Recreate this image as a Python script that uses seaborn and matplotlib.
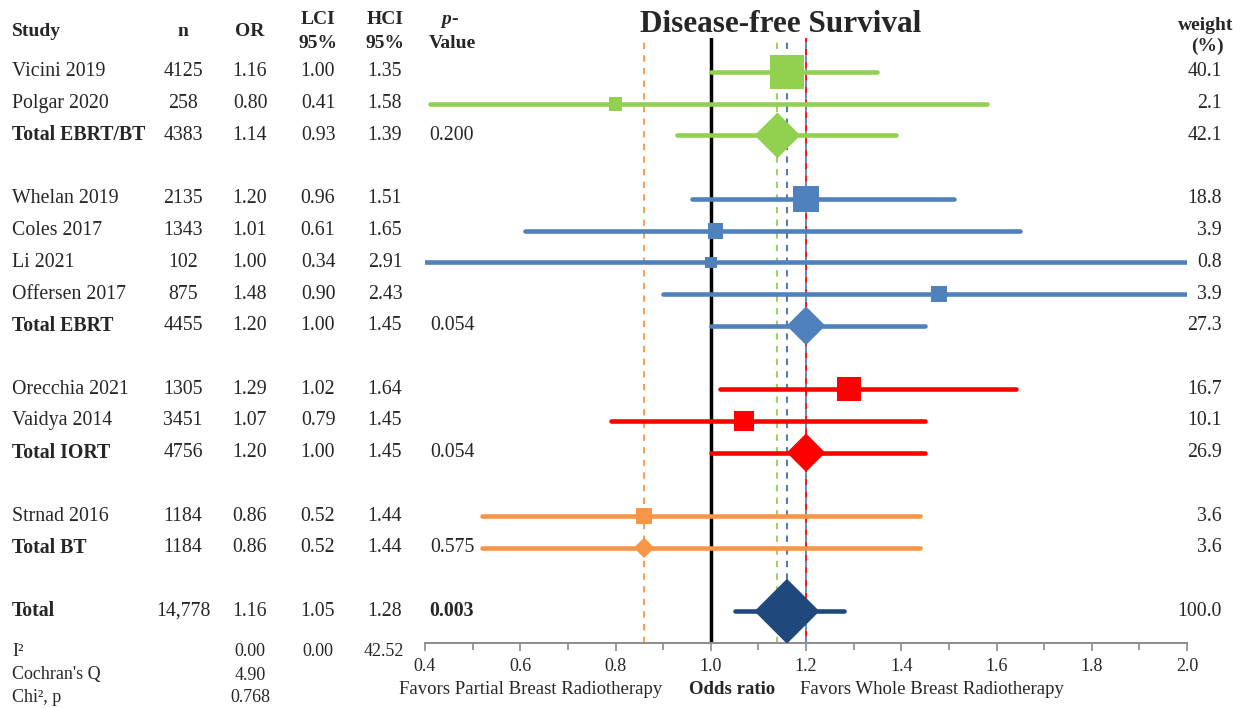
import matplotlib
matplotlib.use("Agg")
import matplotlib.pyplot as plt
import matplotlib.transforms as mtransforms
from matplotlib.ticker import MultipleLocator, FormatStrFormatter
import numpy as np
import pandas as pd
import seaborn as sns

# ---------------- data ----------------
studies = ["Vicini 2019", "Polgar 2020", "Total EBRT/BT",
           "Whelan 2019", "Coles 2017", "Li 2021", "Offersen 2017", "Total EBRT",
           "Orecchia 2021", "Vaidya 2014", "Total IORT",
           "Strnad 2016", "Total BT",
           "Total"]
n_patients = [4125, 258, 4383, 2135, 1343, 102, 875, 4455, 1305, 3451, 4756, 1184, 1184, 14778]
odds_ratio = [1.16, 0.80, 1.14, 1.20, 1.01, 1.00, 1.48, 1.20, 1.29, 1.07, 1.20, 0.86, 0.86, 1.16]
lci = [1.00, 0.41, 0.93, 0.96, 0.61, 0.34, 0.90, 1.00, 1.02, 0.79, 1.00, 0.52, 0.52, 1.05]
hci = [1.35, 1.58, 1.39, 1.51, 1.65, 2.91, 2.43, 1.45, 1.64, 1.45, 1.45, 1.44, 1.44, 1.28]
p_values = ["", "", "0.200", "", "", "", "", "0.054", "", "", "0.054", "", "0.575", "0.003"]
weights = [40.1, 2.1, 42.1, 18.8, 3.9, 0.8, 3.9, 27.3, 16.7, 10.1, 26.9, 3.6, 3.6, 100.0]
groups = ["EBRT/BT"] * 3 + ["EBRT"] * 5 + ["IORT"] * 3 + ["BT"] * 2 + ["All"]

het_labels = ["I\u00b2", "Cochran's Q", "Chi\u00b2, p"]
het_or = ["0.00", "4.90", "0.768"]
het_lci = ["0.00", "", ""]
het_hci = ["42.52", "", ""]

x_ticks = [0.4, 0.6, 0.8, 1.0, 1.2, 1.4, 1.6, 1.8, 2.0]
title = "Disease-free Survival"

# ---------------- styles ----------------
palette = {"EBRT/BT": "#92D050", "EBRT": "#4F81BD", "IORT": "#FF0000",
           "BT": "#F79646", "All": "#1F497D"}
dash_palette = {"EBRT/BT": "#92D050", "EBRT": "#4F81BD", "IORT": "#FF0000",
                "BT": "#F79646", "All": "#3F6DB0"}

sns.set_theme(style="white")
plt.rcParams["font.family"] = ["Liberation Serif", "DejaVu Serif"]

W, H = 1247, 708
fig = plt.figure(figsize=(W / 100, H / 100), dpi=100)
ax = fig.add_axes([425 / W, 65 / H, 762 / W, (643 - 38) / H])

df = pd.DataFrame({"study": studies, "n": n_patients, "odds_ratio": odds_ratio,
                   "lci": lci, "hci": hci, "p": p_values, "weight": weights,
                   "group": groups})
df["total"] = df["study"].str.startswith("Total")
rows = []
r = 0
for t in df["total"]:
    rows.append(r)
    r += 2 if t else 1
df["row"] = rows

# vertical reference lines at pooled estimates
drawn = {}
for _, rr in df[df["total"]].iterrows():
    k = round(rr["odds_ratio"], 3)
    off = drawn.get(k, 0)
    ax.axvline(rr["odds_ratio"], color=dash_palette[rr["group"]], lw=1.3,
               ls=(off * 3.5, (3.5, 3.5)), zorder=1)
    drawn[k] = off + 1
ax.axvline(1.0, color="black", lw=2.5, zorder=2)

# confidence interval lines
lc = ax.hlines(df["row"], df["lci"], df["hci"],
               colors=[palette[g] for g in df["group"]], lw=3.3, zorder=3)
lc.set_capstyle("round")

# markers
sq = df[~df["total"]]
sq_sizes = ((8 + 4 * np.sqrt(sq["weight"])) * 0.72) ** 2
sns.scatterplot(data=sq, x="odds_ratio", y="row", hue="group", palette=palette,
                marker="s", s=sq_sizes.values, linewidth=0, legend=False,
                ax=ax, zorder=4)
dm = df[df["total"]]
dm_sizes = ((10 + 5.5 * np.sqrt(dm["weight"])) * 0.72 / np.sqrt(2)) ** 2
sns.scatterplot(data=dm, x="odds_ratio", y="row", hue="group", palette=palette,
                marker="D", s=dm_sizes.values, linewidth=0, legend=False,
                ax=ax, zorder=4)

ax.set_xlim(0.4, 2.0)
ax.set_ylim(18.0, -1.07)
ax.set_xlabel("")
ax.set_ylabel("")
ax.set_yticks([])
ax.set_xticks(x_ticks)
ax.xaxis.set_major_formatter(FormatStrFormatter("%.1f"))
ax.xaxis.set_minor_locator(MultipleLocator(0.1))
for s in ["top", "left", "right"]:
    ax.spines[s].set_visible(False)
ax.spines["bottom"].set_color("#8C8C8C")
ax.spines["bottom"].set_linewidth(1.4)
ax.tick_params(axis="x", which="both", direction="out", bottom=True,
               color="#8C8C8C", width=1.2, labelsize=13, pad=5)
ax.tick_params(axis="x", which="major", length=6)
ax.tick_params(axis="x", which="minor", length=5)
ax.set_facecolor("none")

# ---------------- table text ----------------
def fx(px):
    return px / W

def fy(py):
    return 1 - py / H

tr = mtransforms.blended_transform_factory(fig.transFigure, ax.transData)
fs = 14.3
hfs = 14

def ftext(px, py, s, **kw):
    kw.setdefault("fontsize", fs)
    kw.setdefault("va", "center")
    fig.text(fx(px), fy(py), s, **kw)

# headers
ftext(12, 31, "Study", ha="left", fontweight="bold", fontsize=hfs)
ftext(183, 31, "n", ha="center", fontweight="bold", fontsize=hfs)
ftext(250, 31, "OR", ha="center", fontweight="bold", fontsize=hfs)
ftext(318, 20, "LCI", ha="center", fontweight="bold", fontsize=hfs)
ftext(318, 43, "95%", ha="center", fontweight="bold", fontsize=hfs)
ftext(385, 20, "HCI", ha="center", fontweight="bold", fontsize=hfs)
ftext(385, 43, "95%", ha="center", fontweight="bold", fontsize=hfs)
ftext(451, 20, "p", ha="right", fontweight="bold", fontstyle="italic", fontsize=hfs)
ftext(451, 20, "-", ha="left", fontweight="bold", fontsize=hfs)
ftext(452, 43, "Value", ha="center", fontweight="bold", fontsize=hfs)
ftext(1206, 25, "weight", ha="center", fontweight="bold", fontsize=hfs)
ftext(1207, 46, "(%)", ha="center", fontweight="bold", fontsize=hfs)

for _, rr in df.iterrows():
    y = rr["row"]
    bold = "bold" if rr["total"] else "normal"
    ax.text(fx(12), y, rr["study"], transform=tr, ha="left", va="center",
            fontsize=fs, fontweight=bold)
    nstr = f"{rr['n']:,}" if rr["n"] >= 10000 else str(rr["n"])
    ax.text(fx(183), y, nstr, transform=tr, ha="center", va="center", fontsize=fs)
    ax.text(fx(250), y, f"{rr['odds_ratio']:.2f}", transform=tr, ha="center", va="center", fontsize=fs)
    ax.text(fx(318), y, f"{rr['lci']:.2f}", transform=tr, ha="center", va="center", fontsize=fs)
    ax.text(fx(385), y, f"{rr['hci']:.2f}", transform=tr, ha="center", va="center", fontsize=fs)
    if rr["p"]:
        ax.text(fx(452), y, rr["p"], transform=tr, ha="center", va="center", fontsize=fs,
                fontweight="bold" if rr["group"] == "All" else "normal")
    ax.text(fx(1222), y, f"{rr['weight']:.1f}", transform=tr, ha="right", va="center", fontsize=fs)

# heterogeneity
for i, py in enumerate([652, 675, 697]):
    ftext(12, py, het_labels[i], ha="left", fontsize=13)
    ftext(250, py, het_or[i], ha="center", fontsize=13)
    if het_lci[i]:
        ftext(318, py, het_lci[i], ha="center", fontsize=13)
    if het_hci[i]:
        ftext(384, py, het_hci[i], ha="center", fontsize=13)

# axis labels
ftext(531, 690, "Favors Partial Breast Radiotherapy", ha="center", fontsize=13.5)
ftext(732, 689, "Odds ratio", ha="center", fontsize=13.5, fontweight="bold")
ftext(932, 690, "Favors Whole Breast Radiotherapy", ha="center", fontsize=13.5)

# title
ftext(781, 25, title, ha="center", fontsize=22.5, fontweight="bold")

fig.savefig("out.png", dpi=100)
